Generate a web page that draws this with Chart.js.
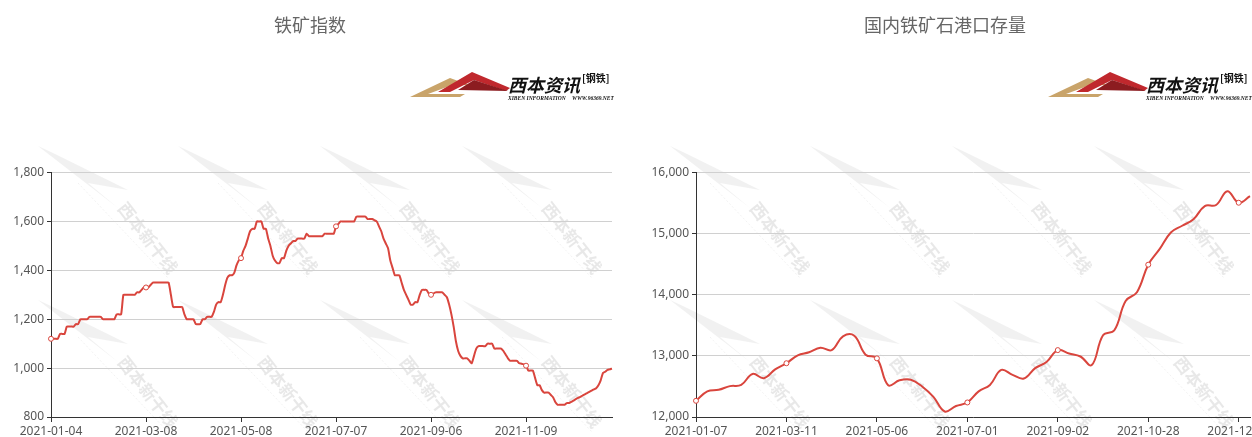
<!DOCTYPE html>
<html>
<head>
<meta charset="utf-8">
<script src="https://cdn.jsdelivr.net/npm/chart.js@4"></script>
<style>
  html, body { margin: 0; padding: 0; background: #fff; overflow: hidden; width: 1252px; height: 437px; }
  .box { position: absolute; top: 0; }
  #boxL { left: 0; width: 626px; height: 450px; }
  #boxR { left: 632px; width: 650px; height: 450px; }
</style>
</head>
<body>
<div class="box" id="boxL"><canvas id="cL"></canvas></div>
<div class="box" id="boxR"><canvas id="cR"></canvas></div>
<script>
// ---------- DATA ----------
const ironTitle = '铁矿指数';
const ironTickLabels = ['2021-01-04', '2021-03-08', '2021-05-08', '2021-07-07', '2021-09-06', '2021-11-09'];
const ironTickEvery = 42;
const ironIndex = [
  1120,1120,1120,1120,1140,1140,1140,1170,1170,1170,
  1170,1180,1180,1200,1200,1200,1200,1210,1210,1210,
  1210,1210,1210,1200,1200,1200,1200,1200,1200,1220,
  1220,1220,1300,1300,1300,1300,1300,1300,1310,1310,
  1320,1330,1330,1330,1340,1350,1350,1350,1350,1350,
  1350,1350,1350,1300,1250,1250,1250,1250,1250,1220,
  1200,1200,1200,1200,1180,1180,1180,1200,1200,1210,
  1210,1210,1230,1260,1270,1270,1300,1340,1370,1380,
  1380,1390,1420,1440,1450,1480,1500,1530,1560,1570,
  1570,1600,1600,1600,1570,1570,1530,1500,1460,1440,
  1430,1430,1450,1450,1480,1500,1510,1520,1520,1530,
  1530,1530,1530,1550,1540,1540,1540,1540,1540,1540,
  1540,1550,1550,1550,1550,1550,1580,1590,1600,1600,
  1600,1600,1600,1600,1600,1620,1620,1620,1620,1620,
  1610,1610,1610,1605,1600,1580,1560,1530,1510,1490,
  1440,1410,1380,1380,1380,1350,1320,1300,1280,1260,
  1260,1270,1270,1300,1320,1320,1320,1305,1300,1305,
  1310,1310,1310,1310,1300,1290,1260,1220,1170,1110,
  1070,1050,1040,1040,1040,1030,1020,1050,1080,1090,
  1090,1090,1090,1100,1100,1100,1080,1080,1080,1080,
  1070,1055,1040,1030,1030,1030,1030,1020,1018,1015,
  1010,990,990,990,960,930,930,910,900,900,
  900,890,880,860,850,850,850,850,857,857,
  862,867,873,878,882,888,893,898,903,908,
  913,918,930,950,980,985,993,995,998
];
const ironY = { min: 800, max: 1800, step: 200 };

const stockTitle = '国内铁矿石港口存量';
const stockTickLabels = ['2021-01-07', '2021-03-11', '2021-05-06', '2021-07-01', '2021-09-02', '2021-10-28', '2021-12-23'];
const stockTickEvery = 8;
const stockValues = [
  12265,12420,12445,12505,12525,12705,12635,12780,12880,13010,
  13060,13135,13095,13320,13330,13020,12960,12520,12600,12610,
  12500,12330,12090,12180,12238,12420,12525,12770,12690,12630,
  12800,12900,13095,13040,12990,12850,13338,13420,13900,14043,
  14493,14748,15020,15130,15236,15452,15470,15696,15507,15615
];
const stockY = { min: 12000, max: 16000, step: 1000 };

// ---------- STYLE ----------
const RED = '#d9453d';
const AXIS = '#333';
const GRID = '#d0d0d0';
const TXT = '#555';
const FONT = '"Noto Sans", "Noto Sans CJK SC", sans-serif';

function buildLabels(values, tickLabels, every) {
  return values.map((_, i) => (i % every === 0 && tickLabels[i / every]) ? tickLabels[i / every] : '');
}

const watermarkPlugin = {
  id: 'wm',
  beforeDraw(chart) {
    const ctx = chart.ctx;
    const cols = [148, 288, 430, 572], rows = [238, 392];
    ctx.save();
    for (const cy of rows) for (const cx of cols) {
      ctx.fillStyle = 'rgba(160,160,160,0.15)';
      ctx.beginPath();
      ctx.moveTo(cx - 110, cy - 92);
      ctx.lineTo(cx - 30, cy - 30);
      ctx.lineTo(cx - 60, cy - 55);
      ctx.lineTo(cx - 20, cy - 48);
      ctx.lineTo(cx - 95, cy - 85);
      ctx.closePath();
      ctx.fill();
      ctx.strokeStyle = 'rgba(160,160,160,0.14)';
      ctx.lineWidth = 1;
      ctx.setLineDash([2, 2]);
      ctx.beginPath();
      ctx.moveTo(cx - 70, cy - 55);
      ctx.lineTo(cx + 20, cy + 40);
      ctx.stroke();
      ctx.setLineDash([]);
      ctx.translate(cx, cy);
      ctx.rotate(52 * Math.PI / 180);
      ctx.fillStyle = 'rgba(150,150,150,0.22)';
      ctx.font = 'bold 17px "Noto Sans CJK SC", sans-serif';
      ctx.textAlign = 'center';
      ctx.textBaseline = 'middle';
      ctx.fillText('西本新干线', 0, 0);
      ctx.setTransform(1, 0, 0, 1, 0, 0);
      ctx.scale(chart.currentDevicePixelRatio, chart.currentDevicePixelRatio);
    }
    ctx.restore();
  }
};

const logoPlugin = {
  id: 'logo',
  afterDraw(chart, args, opts) {
    const ctx = chart.ctx;
    const x = opts.x, y = opts.y;
    ctx.save();
    ctx.fillStyle = '#c9a46a';
    ctx.beginPath();
    ctx.moveTo(x, y + 27);
    ctx.lineTo(x + 40, y + 8);
    ctx.lineTo(x + 62, y + 16);
    ctx.lineTo(x + 45, y + 14);
    ctx.lineTo(x + 18, y + 24);
    ctx.lineTo(x + 55, y + 24);
    ctx.lineTo(x + 50, y + 27);
    ctx.closePath();
    ctx.fill();
    ctx.fillStyle = '#c0282d';
    ctx.beginPath();
    ctx.moveTo(x + 28, y + 22);
    ctx.lineTo(x + 62, y + 2);
    ctx.lineTo(x + 100, y + 18);
    ctx.lineTo(x + 96, y + 21);
    ctx.lineTo(x + 64, y + 10);
    ctx.lineTo(x + 40, y + 22);
    ctx.closePath();
    ctx.fill();
    ctx.fillStyle = '#8c1c20';
    ctx.beginPath();
    ctx.moveTo(x + 48, y + 20);
    ctx.lineTo(x + 64, y + 10);
    ctx.lineTo(x + 98, y + 21);
    ctx.closePath();
    ctx.fill();
    ctx.fillStyle = '#111';
    ctx.font = 'italic bold 18px "Noto Sans CJK SC", sans-serif';
    ctx.textBaseline = 'alphabetic';
    ctx.fillText('西本资讯', x + 98, y + 22);
    ctx.font = 'bold 10px "Noto Sans CJK SC", sans-serif';
    ctx.fillText('[钢铁]', x + 172, y + 12);
    ctx.font = 'italic bold 5.5px "Liberation Serif", serif';
    ctx.fillText('XIBEN INFORMATION', x + 98, y + 30);
    ctx.fillText('WWW.96369.NET', x + 162, y + 30);
    ctx.restore();
  }
};

function makeChart(id, title, values, tickLabels, every, yr, opts) {
  const labels = buildLabels(values, tickLabels, every);
  return new Chart(document.getElementById(id), {
    type: 'line',
    data: {
      labels,
      datasets: [{
        data: values,
        borderColor: RED,
        borderWidth: 2,
        tension: opts.tension,
        pointRadius: ctx => (ctx.dataIndex % every === 0 ? 2.5 : 0),
        pointBorderWidth: 1,
        pointBorderColor: RED,
        pointBackgroundColor: '#fff',
        fill: false
      }]
    },
    options: {
      responsive: true,
      maintainAspectRatio: false,
      animation: false,
      devicePixelRatio: 1,
      layout: { padding: { left: opts.padLeft, right: opts.padRight, top: 0, bottom: 0 } },
      plugins: {
        legend: { display: false },
        tooltip: { enabled: false },
        title: {
          display: true,
          text: title,
          color: '#666',
          font: { size: 18, weight: 'normal', family: '"Noto Sans CJK SC", sans-serif' },
          padding: { top: 14, bottom: opts.titleBottom }
        },
        logo: { x: opts.logoX, y: 70 }
      },
      scales: {
        x: {
          type: 'category',
          offset: false,
          afterBuildTicks: s => { s.ticks = s.ticks.filter(t => t.value % every === 0); },
          afterFit: s => { s.height = 33; },
          ticks: {
            autoSkip: false,
            maxRotation: 0,
            color: TXT,
            font: { size: 12, family: FONT },
            padding: 2,
            callback: (v) => labels[v]
          },
          grid: { display: true, drawOnChartArea: false, drawTicks: true, tickLength: 5, color: AXIS },
          border: { display: true, color: AXIS, width: 1 }
        },
        y: {
          min: yr.min, max: yr.max,
          afterFit: s => { s.width = opts.yWidth; },
          ticks: {
            stepSize: yr.step,
            color: TXT,
            font: { size: 12, family: FONT },
            padding: 3
          },
          grid: { color: GRID, tickColor: AXIS, tickLength: 4, drawTicks: true },
          border: { display: true, color: AXIS, width: 1 }
        }
      }
    },
    plugins: [watermarkPlugin, logoPlugin]
  });
}

makeChart('cL', ironTitle, ironIndex, ironTickLabels, ironTickEvery, ironY,
  { tension: 0.2, padLeft: 8, padRight: 14, yWidth: 43, titleBottom: 137, logoX: 410 });
makeChart('cR', stockTitle, stockValues, stockTickLabels, stockTickEvery, stockY,
  { tension: 0.4, padLeft: 8, padRight: 32, yWidth: 56, titleBottom: 137, logoX: 416 });
</script>
</body>
</html>
